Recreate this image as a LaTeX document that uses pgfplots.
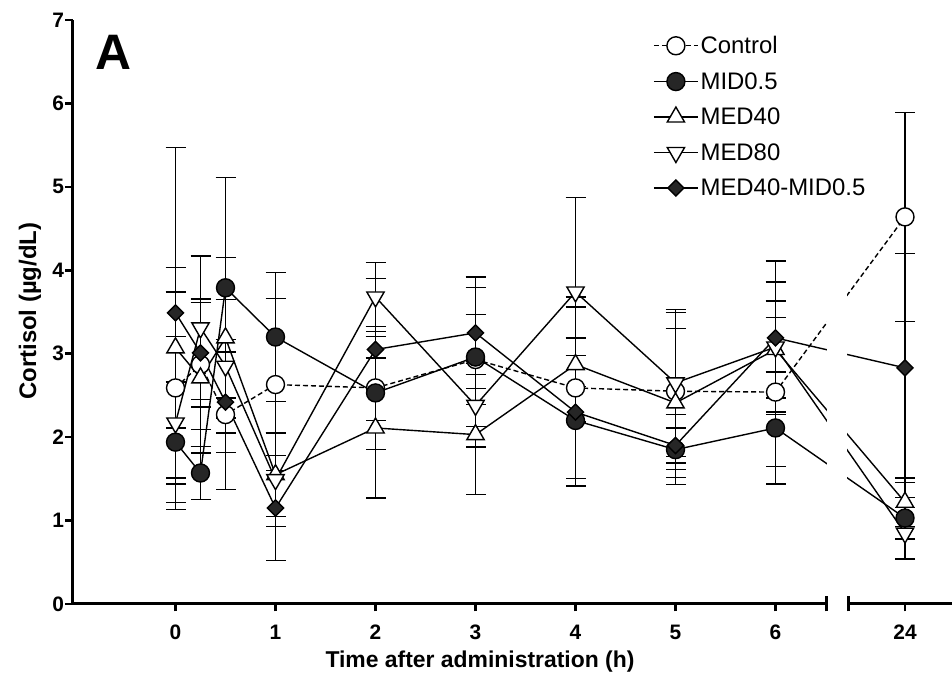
\documentclass[border=0pt]{standalone}
\usepackage{fontspec}
\setmainfont{Liberation Sans}
\usepackage{pgfplots}
\usepackage{pgfplotstable}
\pgfplotsset{compat=1.18}
\usetikzlibrary{calc}

% 24 h is drawn just after the axis break
\makeatletter
\newcommand\breaktrafo[1]{%
  \ifdim#1pt>20pt
    \dimen0=#1pt\advance\dimen0 by -16.705pt
    \edef\pgfmathresult{\pgf@sys@tonumber{\dimen0}}%
  \else
    \edef\pgfmathresult{#1}%
  \fi}
\makeatother

\newcommand\tickfont{\bfseries\fontsize{21}{21}\selectfont}

% time (h), mean, error
\pgfplotstableread{
t    m    e
0    2.59 1.15
0.25 2.87 0.78
0.5  2.27 0.90
1    2.63 1.03
2    2.59 0.74
3    2.93 0.54
4    2.59 1.09
5    2.55 0.94
6    2.54 0.89
24   4.64 1.25
}\control
\pgfplotstableread{
t    m    e
0    1.94 0.72
0.25 1.57 0.32
0.5  3.79 1.32
1    3.20 0.77
2    2.53 0.68
3    2.96 0.83
4    2.20 0.78
5    1.85 0.42
6    2.11 0.67
24   1.03 0.25
}\midz
\pgfplotstableread{
t    m    e
0    3.07 0.96
0.25 2.71 0.90
0.5  3.19 0.96
1    1.55 0.50
2    2.11 0.84
3    2.03 0.72
4    2.87 0.69
5    2.41 0.89
6    3.05 0.58
24   1.22 0.29
}\medforty
\pgfplotstableread{
t    m    e
0    2.17 1.04
0.25 3.31 0.86
0.5  2.85 0.80
1    1.49 0.56
2    3.68 0.41
3    2.38 0.50
4    3.74 1.13
5    2.65 0.88
6    3.08 0.78
24   0.85 0.31
}\medeighty
\pgfplotstableread{
t    m    e
0    3.49 1.98
0.25 3.01 0.65
0.5  2.42 0.60
1    1.15 0.63
2    3.05 0.85
3    3.25 0.67
4    2.30 0.89
5    1.90 0.21
6    3.19 0.92
24   2.83 1.37
}\combo

\begin{document}
\begin{tikzpicture}
\begin{axis}[
  scale only axis, width=879bp, height=584bp,
  x coord trafo/.code={\breaktrafo{#1}},
  xmin=-1.025, xmax=24.47, ymin=0, ymax=7,
  clip=false,
  axis lines*=left,
  axis line style={line width=3bp},
  tick style={line width=2.5bp, black},
  tick align=outside, major tick length=7.5bp,
  xtick={0,1,2,3,4,5,6,24},
  xticklabels={0,1,2,3,4,5,6,24},
  ytick={0,1,2,3,4,5,6,7},
  yticklabels={0,1,2,3,4,5,6,7},
  yticklabel style={anchor=east, xshift=2bp, font=\tickfont},
  xticklabel style={anchor=base, yshift=-28bp, font=\tickfont},
  xlabel={Time after administration (h)},
  xlabel style={at={(axis cs:3.045,0)}, anchor=base, yshift=-64bp,
    font=\bfseries\fontsize{23}{23}\selectfont},
  ylabel={Cortisol (µg/dL)},
  ylabel style={at={(axis cs:-1.455,3.51)}, anchor=center,
    font=\bfseries\fontsize{24}{24}\selectfont},
  every axis plot/.append style={black, line width=1.4bp},
  error bars/error bar style={line width=1.3bp, solid},
  error bars/error mark options={rotate=90, mark size=10bp, line width=1.3bp, solid},
  legend image code/.code={%
    \draw[mark repeat=2, mark phase=2, #1] plot coordinates {(0bp,0bp) (22bp,0bp) (44bp,0bp)};},
  legend cell align=left,
  legend style={draw=none, fill=none, at={(axis cs:4.775,6.83)}, anchor=north west,
    inner sep=0pt, row sep=13.3bp, font=\fontsize{24}{24}\selectfont,
    /tikz/every even column/.append style={column sep=4bp}},
]
\addplot[dash pattern=on 5bp off 3bp, mark=*, mark size=9bp, mark options={solid, fill=white},
  error bars/.cd, y dir=both, y explicit]
  table[x=t, y=m, y error=e] {\control};
\addplot[mark=*, mark size=9bp, mark options={fill=black!85},
  error bars/.cd, y dir=both, y explicit]
  table[x=t, y=m, y error=e] {\midz};
\addplot[mark=triangle*, mark size=10bp, mark options={fill=white},
  error bars/.cd, y dir=both, y explicit]
  table[x=t, y=m, y error=e] {\medforty};
\addplot[mark=triangle*, mark size=10bp, mark options={fill=white, rotate=180},
  error bars/.cd, y dir=both, y explicit]
  table[x=t, y=m, y error=e] {\medeighty};
\addplot[mark=square*, mark size=5.7bp, mark options={fill=black!85, rotate=45},
  error bars/.cd, y dir=both, y explicit]
  table[x=t, y=m, y error=e] {\combo};
\legend{Control, MID0.5, MED40, MED80, MED40-MID0.5}

% axis break
\fill[white] (axis cs:6.515,-0.12) rectangle (axis cs:6.715,4.3);
\draw[line width=3bp] (axis cs:6.505,-0.09) -- (axis cs:6.505,0.09);
\draw[line width=3bp] (axis cs:6.725,-0.09) -- (axis cs:6.725,0.09);

\node[font=\bfseries\fontsize{50}{50}\selectfont] at (axis cs:-0.625,6.61) {A};
\end{axis}
\pgfresetboundingbox
\path[use as bounding box] ($(current axis.south west)+(-73bp,-77bp)$)
  rectangle ($(current axis.north east)+(0bp,20bp)$);
\end{tikzpicture}
\end{document}
